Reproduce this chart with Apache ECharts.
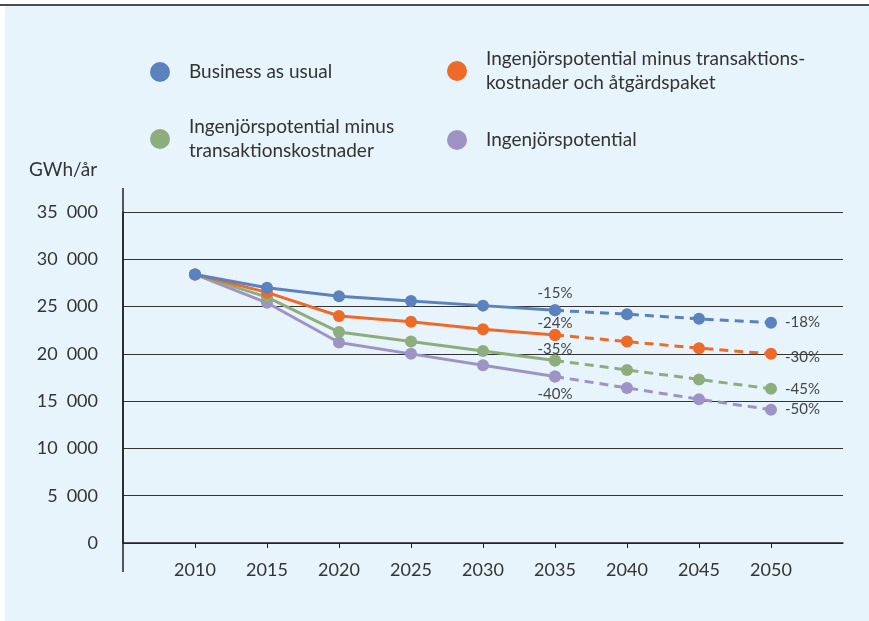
<!DOCTYPE html>
<html>
<head>
<meta charset="utf-8">
<script src="https://cdn.jsdelivr.net/npm/echarts@6/dist/echarts.min.js"></script>
<style>
  html, body { margin: 0; padding: 0; background: #fff; }
  #main { width: 869px; height: 621px; }
</style>
</head>
<body>
<div id="main"></div>
<script>
// data (GWh/år)
var years = [2010, 2015, 2020, 2025, 2030, 2035, 2040, 2045, 2050];
var names = [
  'Business as usual',
  'Ingenjörspotential minus transaktionskostnader och åtgärdspaket',
  'Ingenjörspotential minus transaktionskostnader',
  'Ingenjörspotential'
];
var legendText = [
  'Business as usual',
  'Ingenjörspotential minus transaktions-\nkostnader och åtgärdspaket',
  'Ingenjörspotential minus\ntransaktionskostnader',
  'Ingenjörspotential'
];
var colors = ['#5b82be', '#ee6a28', '#8ead7d', '#9d93c5'];
var bau      = [28400, 27000, 26100, 25600, 25100, 24600, 24200, 23700, 23300];
var ingTrAtg = [28400, 26500, 24000, 23400, 22600, 22000, 21300, 20600, 20000];
var ingTr    = [28400, 26000, 22300, 21300, 20300, 19300, 18300, 17300, 16300];
var ing      = [28400, 25400, 21200, 20000, 18800, 17600, 16400, 15200, 14100];
var pct2035 = ['-15%', '-24%', '-35%', '-40%'];
var pct2050 = ['-18%', '-30%', '-45%', '-50%'];

var FONT = 'Lato';
var allData = [bau, ingTrAtg, ingTr, ing];
var splitIdx = 5; // heldragen t.o.m. 2035, streckad efter

function fmt(v) {
  return String(v).replace(/\B(?=(\d{3})+(?!\d))/g, '\u2002');
}

var series = [];
allData.forEach(function (vals, i) {
  var solid = [], dashed = [];
  for (var k = 0; k < years.length; k++) {
    var item = { value: [years[k], vals[k]] };
    if (k == splitIdx) {
      var below = (i == 3);
      item.label = {
        show: true,
        formatter: pct2035[i],
        position: below ? 'bottom' : 'top',
        distance: below ? 4 : 1,
        offset: [0, i == 0 ? -3 : (below ? 0 : 3)]
      };
    }
    if (k <= splitIdx) solid.push(item);
    if (k >= splitIdx) {
      var d = { value: [years[k], vals[k]] };
      if (k == years.length - 1) {
        d.label = {
          show: true,
          formatter: pct2050[i],
          position: 'right',
          distance: 8,
          offset: i == 1 ? [0, 3] : [0, 0]
        };
      }
      dashed.push(d);
    }
  }
  var base = {
    name: names[i],
    type: 'line',
    symbol: 'circle',
    symbolSize: 12,
    color: colors[i],
    silent: true,
    label: { color: '#444', fontSize: 15, fontFamily: FONT },
    z: 10 - i
  };
  series.push(Object.assign({}, base, {
    data: solid,
    lineStyle: { width: 3, color: colors[i] }
  }));
  series.push(Object.assign({}, base, {
    data: dashed,
    lineStyle: { width: 3, color: colors[i], type: [9, 6] }
  }));
});

var legendPos = [[145, 55], [442, 42], [145, 110], [442, 123]];
var legends = names.map(function (n, i) {
  return {
    data: [n],
    left: legendPos[i][0],
    top: legendPos[i][1],
    icon: 'circle',
    itemWidth: 20,
    itemHeight: 20,
    itemGap: 0,
    selectedMode: false,
    formatter: function () { return legendText[i]; },
    textStyle: { fontFamily: FONT, fontSize: 19, color: '#333', lineHeight: 24, padding: [0, 0, 0, 14] }
  };
});

var chart = echarts.init(document.getElementById('main'));
chart.setOption({
  animation: false,
  textStyle: { fontFamily: FONT },
  graphic: [
    { type: 'rect', shape: { x: 5, y: 6, width: 869, height: 621 }, style: { fill: '#e8f4fc' }, z: -10 },
    { type: 'line', shape: { x1: 0, y1: 5, x2: 869, y2: 5 }, style: { stroke: '#111', lineWidth: 1.5 }, z: -9 },
    // y-axelns förlängning över 35 000 och under 0
    { type: 'line', shape: { x1: 123, y1: 188, x2: 123, y2: 572 }, style: { stroke: '#222', lineWidth: 1.5 }, z: 5 }
  ],
  title: {
    text: 'GWh/år',
    left: 24,
    top: 155,
    textStyle: { fontFamily: FONT, fontSize: 19, fontWeight: 'normal', color: '#333' }
  },
  legend: legends,
  grid: { left: 123, right: 26, top: 212, bottom: 78 },
  xAxis: {
    type: 'value',
    min: 2005,
    max: 2055,
    axisLine: { lineStyle: { color: '#222', width: 1.5 } },
    axisTick: { show: true, length: 5, customValues: years, lineStyle: { color: '#222' } },
    axisLabel: {
      customValues: years,
      margin: 18,
      fontSize: 18,
      color: '#333',
      fontFamily: FONT,
      formatter: function (v) { return String(v); }
    },
    splitLine: { show: false }
  },
  yAxis: {
    type: 'value',
    min: 0,
    max: 35000,
    interval: 5000,
    axisLine: { show: true, lineStyle: { color: '#222', width: 1.5 } },
    axisTick: { show: false },
    axisLabel: {
      margin: 25,
      fontSize: 18,
      color: '#333',
      fontFamily: FONT,
      formatter: fmt
    },
    splitLine: { show: true, lineStyle: { color: '#333', width: 1 } }
  },
  series: series
});
</script>
</body>
</html>
